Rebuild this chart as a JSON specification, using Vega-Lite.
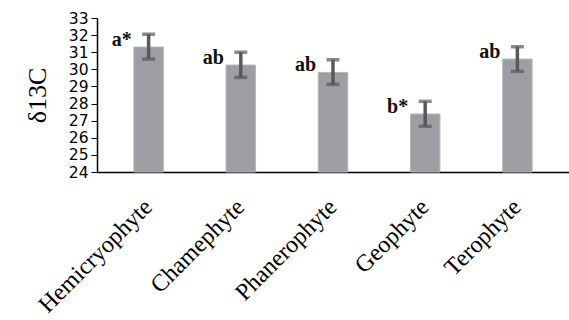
{
  "$schema": "https://vega.github.io/schema/vega-lite/v6.json",
  "width": 472,
  "height": 154,
  "autosize": {"type": "none"},
  "padding": {"left": 97, "top": 18, "right": 0, "bottom": 148},
  "background": "white",
  "data": {"values": [
    {"type": "Hemicryophyte", "mean": 31.3, "lo": 30.6, "hi": 32.05, "label": "a*"},
    {"type": "Chamephyte", "mean": 30.25, "lo": 29.53, "hi": 31.0, "label": "ab"},
    {"type": "Phanerophyte", "mean": 29.82, "lo": 29.12, "hi": 30.56, "label": "ab"},
    {"type": "Geophyte", "mean": 27.39, "lo": 26.67, "hi": 28.13, "label": "b*"},
    {"type": "Terophyte", "mean": 30.6, "lo": 29.88, "hi": 31.32, "label": "ab"}
  ]},
  "config": {
    "view": {"stroke": null},
    "axisY": {
      "title": "δ13C", "titleFont": "Liberation Serif", "titleFontSize": 26,
      "titleFontWeight": "normal", "titleColor": "black", "titlePadding": 18,
      "labelOverlap": false, "labelFlush": false,
      "labelFont": "DejaVu Sans", "labelFontSize": 15.5, "labelColor": "black",
      "labelPadding": 3, "tickSize": 6, "tickColor": "black", "domainColor": "black",
      "domainWidth": 1.5, "grid": false
    }
  },
  "encoding": {
    "x": {
      "field": "type", "type": "nominal", "sort": null,
      "scale": {"paddingInner": 0.68, "paddingOuter": 0.4},
      "axis": {
        "title": null, "labelAngle": -45, "labelAlign": "right", "labelBaseline": "middle",
        "labelFont": "Liberation Serif", "labelFontSize": 24, "labelColor": "black",
        "labelPadding": 31, "labelLimit": 0, "labelOverlap": false, "ticks": false,
        "domainColor": "black", "domainWidth": 1.5
      }
    }
  },
  "layer": [
    {
      "mark": {"type": "bar", "color": "#9c9ea1", "stroke": "#b4b6b8", "strokeWidth": 1},
      "encoding": {
        "y": {
          "field": "mean", "type": "quantitative",
          "scale": {"domain": [24, 33], "zero": false, "nice": false},
          "axis": {"title": "δ13C", "values": [24,25,26,27,28,29,30,31,32,33]}
        },
        "y2": {"datum": 24}
      }
    },
    {
      "mark": {"type": "rule", "color": "#595959", "strokeWidth": 3.5},
      "encoding": {"y": {"field": "lo", "type": "quantitative", "axis": {"title": "δ13C", "values": [24,25,26,27,28,29,30,31,32,33]}}, "y2": {"field": "hi"}}
    },
    {
      "mark": {"type": "tick", "color": "#595959", "thickness": 3.5, "size": 13},
      "encoding": {"y": {"field": "lo", "type": "quantitative", "axis": {"title": "δ13C", "values": [24,25,26,27,28,29,30,31,32,33]}}}
    },
    {
      "mark": {"type": "tick", "color": "#595959", "thickness": 3.5, "size": 13},
      "encoding": {"y": {"field": "hi", "type": "quantitative", "axis": {"title": "δ13C", "values": [24,25,26,27,28,29,30,31,32,33]}}}
    },
    {
      "mark": {"type": "text", "align": "right", "baseline": "alphabetic", "dx": -17, "dy": -1,
               "font": "Liberation Serif", "fontSize": 20, "fontWeight": "bold", "color": "#111"},
      "encoding": {"y": {"field": "mean", "type": "quantitative", "axis": {"title": "δ13C", "values": [24,25,26,27,28,29,30,31,32,33]}}, "text": {"field": "label"}}
    }
  ]
}
